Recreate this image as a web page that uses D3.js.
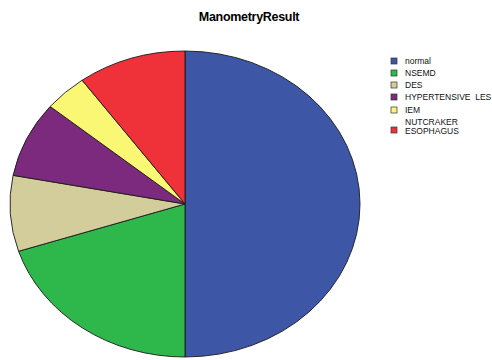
<!DOCTYPE html>
<html>
<head>
<meta charset="utf-8">
<script src="https://cdn.jsdelivr.net/npm/d3@7"></script>
<style>
	body { margin: 0; background: #fff; }
	svg { display: block; }
	text { font-family: "Liberation Sans", Arial, sans-serif; }
</style>
</head>
<body>
<div id="chart"></div>
<script>
/* chart data */
var categories = ["normal", "NSEMD", "DES", "HYPERTENSIVE  LES", "IEM", "NUTCRAKER ESOPHAGUS"];
var counts = [25, 10, 4, 4, 2, 5];
var colours = ["#3e56a6", "#2eb84b", "#d3cd9b", "#7b2a7d", "#f9f773", "#ef323a"];

var width = 492, height = 360;
var cx = 185, cy = 204, rx = 175, ry = 153;

var svg = d3.select("#chart").append("svg")
	.attr("width", width)
	.attr("height", height);

/* title */
svg.append("text")
	.attr("x", 249)
	.attr("y", 21)
	.attr("text-anchor", "middle")
	.style("font-size", "12.5px")
	.style("font-weight", "bold")
	.style("letter-spacing", "-0.3px")
	.text("ManometryResult");

var pieData = categories.map(function(c, i){ return {name: c, value: counts[i], colour: colours[i]}; });

var pie = d3.pie().sort(null).value(function(d){ return d.value; });
var arc = d3.arc().innerRadius(0).outerRadius(rx);

/* pie is drawn as a circle and squashed to an ellipse */
var g = svg.append("g")
	.attr("transform", "translate(" + cx + "," + cy + ") scale(1," + (ry / rx) + ")");

g.selectAll("path")
	.data(pie(pieData))
	.enter()
	.append("path")
	.attr("d", arc)
	.attr("fill", function(d){ return d.data.colour; })
	.attr("stroke", "#1a1a1a")
	.attr("stroke-width", 0.9)
	.attr("vector-effect", "non-scaling-stroke");

/* legend */
var legend = svg.append("g").attr("transform", "translate(391,0)");
var rowY = [61, 73, 85, 97, 110, 130];

var item = legend.selectAll("g.item")
	.data(pieData)
	.enter()
	.append("g")
	.attr("class", "item")
	.attr("transform", function(d, i){ return "translate(0," + rowY[i] + ")"; });

item.append("rect")
	.attr("x", 0)
	.attr("y", -3)
	.attr("width", 6)
	.attr("height", 6)
	.attr("fill", function(d){ return d.colour; })
	.attr("stroke", "#333")
	.attr("stroke-width", 0.7);

item.each(function(d){
	var words = d.name.indexOf("NUTCRAKER") == 0 ? ["NUTCRAKER", "ESOPHAGUS"] : [d.name];
	var t = d3.select(this).append("text")
		.attr("x", 14)
		.attr("y", words.length > 1 ? -5 : 3)
		.style("font-size", "8.5px")
		.style("white-space", "pre")
		.attr("fill", "#111");
	words.forEach(function(w, k){
		t.append("tspan").attr("x", 14).attr("dy", k == 0 ? 0 : 9).text(w);
	});
});
</script>
</body>
</html>
